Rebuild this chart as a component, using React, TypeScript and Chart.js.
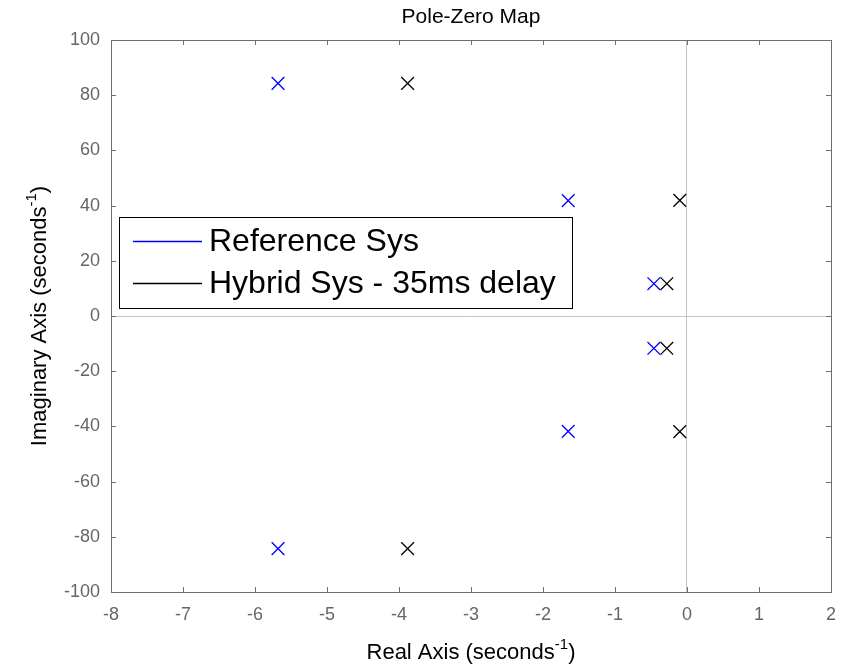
import React, { useEffect, useRef } from "react";
import { Chart, registerables } from "chart.js";

Chart.register(...registerables);

// Pole locations: real part and imaginary part for each system
const referenceReal = [-5.68, -5.68, -1.65, -1.65, -0.46, -0.46];
const referenceImag = [84.3, -84.3, 41.8, -41.8, 11.7, -11.7];
const hybridReal = [-3.88, -3.88, -0.1, -0.1, -0.28, -0.28];
const hybridImag = [84.3, -84.3, 41.9, -41.9, 11.7, -11.7];

const seriesLabels = ["Reference Sys", "Hybrid Sys - 35ms delay"];
const seriesColors = ["#0000ff", "#000000"];

const xMin = -8;
const xMax = 2;
const yMin = -100;
const yMax = 100;

const FONT = "'Liberation Sans', Arial, sans-serif";
const AXIS_GRAY = "#6f6f6f";

const toPoints = (re: number[], im: number[]) =>
  re.map((r, i) => ({ x: r, y: im[i] }));

// Box, inward ticks, titles with superscripts, and the in-plot legend
const decorations = {
  id: "decorations",
  afterDraw(chart: any) {
    const { ctx, chartArea: a, scales } = chart;
    const xs = scales.x;
    const ys = scales.y;
    ctx.save();

    // frame
    ctx.strokeStyle = AXIS_GRAY;
    ctx.lineWidth = 1;
    ctx.strokeRect(a.left + 0.5, a.top + 0.5, a.right - a.left, a.bottom - a.top);

    // inward ticks on all four sides
    const t = 5;
    ctx.beginPath();
    xs.ticks.forEach((tk: any) => {
      const px = Math.round(xs.getPixelForValue(tk.value)) + 0.5;
      ctx.moveTo(px, a.bottom);
      ctx.lineTo(px, a.bottom - t);
      ctx.moveTo(px, a.top);
      ctx.lineTo(px, a.top + t);
    });
    ys.ticks.forEach((tk: any) => {
      const py = Math.round(ys.getPixelForValue(tk.value)) + 0.5;
      ctx.moveTo(a.left, py);
      ctx.lineTo(a.left + t, py);
      ctx.moveTo(a.right, py);
      ctx.lineTo(a.right - t, py);
    });
    ctx.stroke();

    // title
    ctx.fillStyle = "#000";
    ctx.font = `21px ${FONT}`;
    ctx.textAlign = "center";
    ctx.textBaseline = "middle";
    ctx.fillText("Pole-Zero Map", (a.left + a.right) / 2, 17);

    // axis titles with a superscript unit
    const drawUnitTitle = (main: string, cx: number, cy: number) => {
      const big = `22px ${FONT}`;
      const small = `15px ${FONT}`;
      ctx.font = big;
      const w1 = ctx.measureText(main).width;
      const w3 = ctx.measureText(")").width;
      ctx.font = small;
      const w2 = ctx.measureText("-1").width;
      const total = w1 + w2 + w3;
      let x = cx - total / 2;
      ctx.textAlign = "left";
      ctx.textBaseline = "alphabetic";
      ctx.font = big;
      ctx.fillText(main, x, cy + 7);
      x += w1;
      ctx.font = small;
      ctx.fillText("-1", x, cy - 3);
      x += w2;
      ctx.font = big;
      ctx.fillText(")", x, cy + 7);
    };
    drawUnitTitle("Real Axis (seconds", (a.left + a.right) / 2, 652);
    ctx.save();
    ctx.translate(39, (a.top + a.bottom) / 2);
    ctx.rotate(-Math.PI / 2);
    drawUnitTitle("Imaginary Axis (seconds", 0, 0);
    ctx.restore();

    // legend box
    const lx = Math.round(xs.getPixelForValue(xMin)) + 8;
    const ly = 217;
    const lw = 453;
    const lh = 91;
    ctx.fillStyle = "#fff";
    ctx.fillRect(lx, ly, lw, lh);
    ctx.strokeStyle = "#000";
    ctx.lineWidth = 1;
    ctx.strokeRect(lx + 0.5, ly + 0.5, lw, lh);
    ctx.font = `32px ${FONT}`;
    ctx.textAlign = "left";
    ctx.textBaseline = "middle";
    chart.data.datasets.forEach((ds: any, i: number) => {
      const rowY = ly + 24 + i * 42;
      ctx.strokeStyle = seriesColors[i];
      ctx.lineWidth = 1.4;
      ctx.beginPath();
      ctx.moveTo(lx + 14, rowY + 0.5);
      ctx.lineTo(lx + 83, rowY + 0.5);
      ctx.stroke();
      ctx.fillStyle = "#000";
      ctx.fillText(ds.label, lx + 90, rowY + 1);
    });
    ctx.restore();
  },
};

export default function App() {
  const canvasRef = useRef<HTMLCanvasElement | null>(null);

  useEffect(() => {
    if (!canvasRef.current) return;
    const chart = new Chart(canvasRef.current, {
      type: "scatter",
      data: {
        datasets: [
          {
            label: seriesLabels[0],
            data: toPoints(referenceReal, referenceImag),
            borderColor: seriesColors[0],
            backgroundColor: seriesColors[0],
            pointStyle: "crossRot",
            pointRadius: 9,
            borderWidth: 1.3,
          },
          {
            label: seriesLabels[1],
            data: toPoints(hybridReal, hybridImag),
            borderColor: seriesColors[1],
            backgroundColor: seriesColors[1],
            pointStyle: "crossRot",
            pointRadius: 9,
            borderWidth: 1.3,
          },
        ],
      },
      options: {
        animation: false,
        responsive: false,
        layout: { padding: { top: 40, right: 17, left: 0, bottom: 0 } },
        plugins: {
          legend: { display: false },
          title: { display: false },
          tooltip: { enabled: false },
        },
        scales: {
          x: {
            type: "linear",
            min: xMin,
            max: xMax,
            ticks: {
              stepSize: 1,
              color: "#666",
              font: { family: FONT, size: 18 },
              padding: 12,
            },
            grid: {
              drawTicks: false,
              color: (c: any) => (c.tick && c.tick.value === 0 ? "#c4c4c4" : "rgba(0,0,0,0)"),
            },
            border: { display: true, color: AXIS_GRAY },
            afterFit: (s: any) => {
              s.height = 75;
            },
          },
          y: {
            type: "linear",
            min: yMin,
            max: yMax,
            ticks: {
              stepSize: 20,
              color: "#666",
              font: { family: FONT, size: 18 },
              padding: 11,
            },
            grid: {
              drawTicks: false,
              color: (c: any) => (c.tick && c.tick.value === 0 ? "#c4c4c4" : "rgba(0,0,0,0)"),
            },
            border: { display: true, color: AXIS_GRAY },
            afterFit: (s: any) => {
              s.width = 111;
            },
          },
        },
      },
      plugins: [decorations],
    });
    return () => chart.destroy();
  }, []);

  return (
    <div style={{ position: "fixed", left: 0, top: 0, width: 848, height: 667, background: "#fff" }}>
      <canvas ref={canvasRef} width={848} height={667} />
    </div>
  );
}
